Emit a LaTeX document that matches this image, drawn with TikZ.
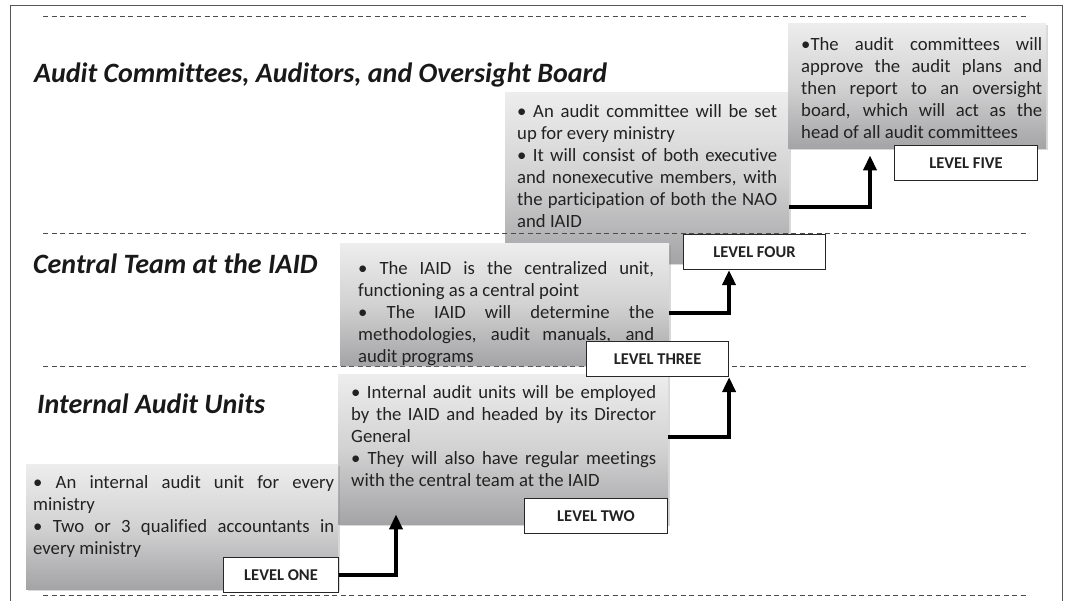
\documentclass[tikz,border=0pt]{standalone}
\usepackage{fontspec}
\setmainfont{Carlito}[Ligatures={NoCommon}]
\usetikzlibrary{arrows.meta,shadows}
\definecolor{txt}{HTML}{222222}
\definecolor{gtop}{HTML}{EDEDED}
\definecolor{gmid}{HTML}{D2D2D3}
\definecolor{gbot}{HTML}{A4A4A6}
\definecolor{framec}{HTML}{555555}
\hyphenpenalty=10000
\exhyphenpenalty=10000
\setlength{\parindent}{0pt}
\begin{document}
\begin{tikzpicture}[x=1pt,y=-1pt,
  panel/.style={draw=none, top color=gtop, bottom color=gbot, middle color=gmid,
    drop shadow={opacity=0.3,shadow xshift=1.5pt,shadow yshift=-2pt},
    inner sep=0, anchor=north west},
  bodytext/.style={anchor=north west, inner sep=0, align=justify,
    font=\fontsize{18.7}{22}\selectfont, text=txt},
  heading/.style={anchor=base west, inner sep=0,
    font=\bfseries\itshape\fontsize{28}{33}\selectfont, text=black!90},
  lvl/.style={draw=black!85, line width=1.1pt, fill=white, inner sep=0,
    anchor=north west, minimum height=35pt,
    font=\bfseries\fontsize{16.5}{19}\selectfont, text=txt},
  guide/.style={draw=black!70, line width=0.8pt, dash pattern=on 5pt off 3.5pt},
  stepar/.style={line width=3.8pt, -{Triangle[length=15pt,width=13pt]}, draw=black}
]
\useasboundingbox (0,0) rectangle (1065,601);
% frame
\draw[framec, line width=1pt] (10,601) -- (10,6) -- (1062,6) -- (1062,601);

% upper panels
\node[panel, minimum width=284pt, minimum height=171pt] (box4) at (505,92) {};
\node[panel, minimum width=258pt, minimum height=125pt] (box5) at (788,23) {};

% guide lines
\draw[guide] (43,16) -- (1029,16);
\draw[guide] (43,233) -- (1029,233);
\draw[guide] (43,366) -- (1029,366);
\draw[guide] (43,595) -- (1029,595);

% lower panels
\node[panel, minimum width=329pt, minimum height=122pt] (box3) at (340,243) {};
\node[panel, minimum width=330pt, minimum height=150pt] (box2) at (338,374) {};
\node[panel, minimum width=312pt, minimum height=125pt] (box1) at (26,464) {};

% headings
\node[heading] (h5) at (34,83) {Audit Committees, Auditors, and Oversight Board};
\node[heading] (h3) at (33,274) {Central Team at the IAID};
\node[heading] (h1) at (37,413) {Internal Audit Units};

% texts
\node[bodytext, text width=301pt] (t1) at (33,472.6)
  {\strut• An internal audit unit for every\linebreak ministry\par
   • Two or 3 qualified accountants in\linebreak every ministry};
\node[bodytext, text width=305pt] (t2) at (351,382.6)
  {\strut• Internal audit units will be employed\linebreak by the IAID and headed by its Director\linebreak General\par
   • They will also have regular meetings\linebreak with the central team at the IAID};
\node[bodytext, text width=296pt] (t3) at (358,258.6)
  {\strut• The IAID is the centralized unit,\linebreak functioning as a central point\par
   • The IAID will determine the\linebreak methodologies, audit manuals, and\linebreak audit programs};
\node[bodytext, text width=260pt] (t4) at (517,101.6)
  {\strut• An audit committee will be set\linebreak up for every ministry\par
   • It will consist of both executive\linebreak and nonexecutive members, with\linebreak the participation of both the NAO\linebreak and IAID};
\node[bodytext, text width=241pt] (t5) at (801,34.6)
  {\strut•The audit committees will\linebreak approve the audit plans and\linebreak then report to an oversight\linebreak board, which will act as the\linebreak head of all audit committees};

% level labels
\node[lvl, minimum width=115pt] (l1) at (223,557) {LEVEL ONE};
\node[lvl, minimum width=143pt] (l2) at (524,498) {LEVEL TWO};
\node[lvl, minimum width=142pt] (l3) at (586,341) {LEVEL THREE};
\node[lvl, minimum width=142pt] (l4) at (683,234) {LEVEL FOUR};
\node[lvl, minimum width=143pt] (l5) at (894,145) {LEVEL FIVE};

% step arrows
\draw[stepar] (l1.east) -| ([xshift=58pt,yshift=10pt]box2.south west);
\draw[stepar] ([yshift=12pt]box2.east) -| (l3.south east);
\draw[stepar] ([yshift=-9pt]box3.east) -| ([xshift=46pt]l4.south west);
\draw[stepar] ([yshift=-29.5pt]box4.east) -| ([xshift=82pt,yshift=-7pt]box5.south west);
\end{tikzpicture}
\end{document}
